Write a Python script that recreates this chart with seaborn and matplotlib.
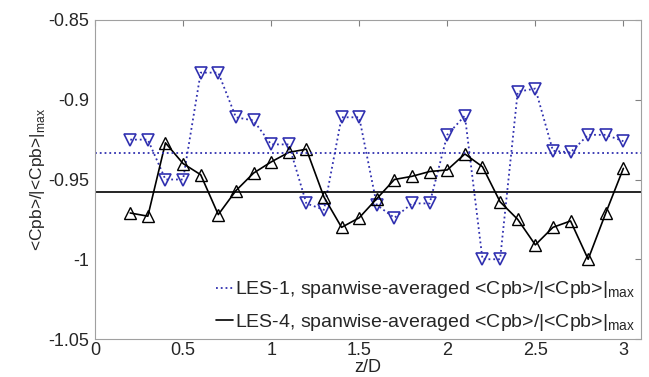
import numpy as np
import pandas as pd
import matplotlib
matplotlib.use("Agg")
import matplotlib.pyplot as plt
import seaborn as sns

z = [0.2, 0.3, 0.4, 0.5, 0.6, 0.7, 0.8, 0.9, 1.0, 1.1, 1.2, 1.3, 1.4, 1.5, 1.6,
     1.7, 1.8, 1.9, 2.0, 2.1, 2.2, 2.3, 2.4, 2.5, 2.6, 2.7, 2.8, 2.9, 3.0]
les1 = [-0.925, -0.925, -0.950, -0.950, -0.883, -0.883, -0.911, -0.913, -0.928, -0.928,
        -0.965, -0.969, -0.911, -0.911, -0.966, -0.974, -0.965, -0.965, -0.922, -0.910,
        -1.000, -1.000, -0.895, -0.893, -0.932, -0.933, -0.922, -0.922, -0.926]
les4 = [-0.971, -0.973, -0.927, -0.940, -0.947, -0.972, -0.957, -0.946, -0.939, -0.933,
        -0.931, -0.961, -0.980, -0.974, -0.962, -0.950, -0.948, -0.945, -0.944, -0.934,
        -0.942, -0.964, -0.975, -0.991, -0.980, -0.976, -1.000, -0.971, -0.943]
les1_mean = -0.9336
les4_mean = -0.958
labels = ["LES-1, spanwise-averaged <Cpb>/|<Cpb>|$_{\\mathregular{max}}$",
          "LES-4, spanwise-averaged <Cpb>/|<Cpb>|$_{\\mathregular{max}}$"]
xticks = [0, 0.5, 1, 1.5, 2, 2.5, 3]
yticks = [-1.05, -1.0, -0.95, -0.9, -0.85]
ytick_labels = ["-1.05", "-1", "-0.95", "-0.9", "-0.85"]

sns.set_style("white")
plt.rcParams['font.family'] = ['Liberation Sans', 'DejaVu Sans']
plt.rcParams['mathtext.fontset'] = 'custom'
plt.rcParams['mathtext.rm'] = 'Liberation Sans'

blue = "#3030b0"
df1 = pd.DataFrame({"z": z, "v": les1})
df4 = pd.DataFrame({"z": z, "v": les4})

fig = plt.figure(figsize=(6.49, 3.77), dpi=100)
ax = fig.add_axes([95/649, 1-339/377, (641-95)/649, (339-20)/377])

sns.lineplot(data=df1, x="z", y="v", ax=ax, color=blue, linestyle=":", linewidth=1.3,
             marker="v", markersize=9, markerfacecolor="none", markeredgecolor=blue,
             markeredgewidth=1.2, legend=False)
sns.lineplot(data=df4, x="z", y="v", ax=ax, color="black", linestyle="-", linewidth=1.2,
             marker="^", markersize=9, markerfacecolor="none", markeredgecolor="black",
             markeredgewidth=1.0, legend=False)
h1 = ax.axhline(les1_mean, color=blue, linestyle=":", linewidth=1.3)
h4 = ax.axhline(les4_mean, color="black", linestyle="-", linewidth=1.2)

ax.set_xlim(0, 3.1)
ax.set_ylim(-1.05, -0.85)
ax.set_xticks(xticks)
ax.set_xticklabels([f"{t:g}" for t in xticks])
ax.set_yticks(yticks)
ax.set_yticklabels(ytick_labels)
ax.tick_params(direction="in", top=True, right=True, length=4, labelsize=13,
               color="#808080", pad=2)
ax.tick_params(axis="y", pad=4)
for s in ax.spines.values():
    s.set_color("#a0a0a0")
    s.set_linewidth(0.8)
ax.set_xlabel("z/D", fontsize=13, labelpad=0.5)
ax.set_ylabel("<Cpb>/|<Cpb>|$_{\\mathregular{max}}$", fontsize=12.5, labelpad=1)

ax.legend([h1, h4], labels, loc="lower right", frameon=False, fontsize=14,
          handlelength=0.9, handletextpad=0.1, borderaxespad=0.1, labelspacing=0.6,
          borderpad=0.2)

fig.savefig("out.png", dpi=100)
